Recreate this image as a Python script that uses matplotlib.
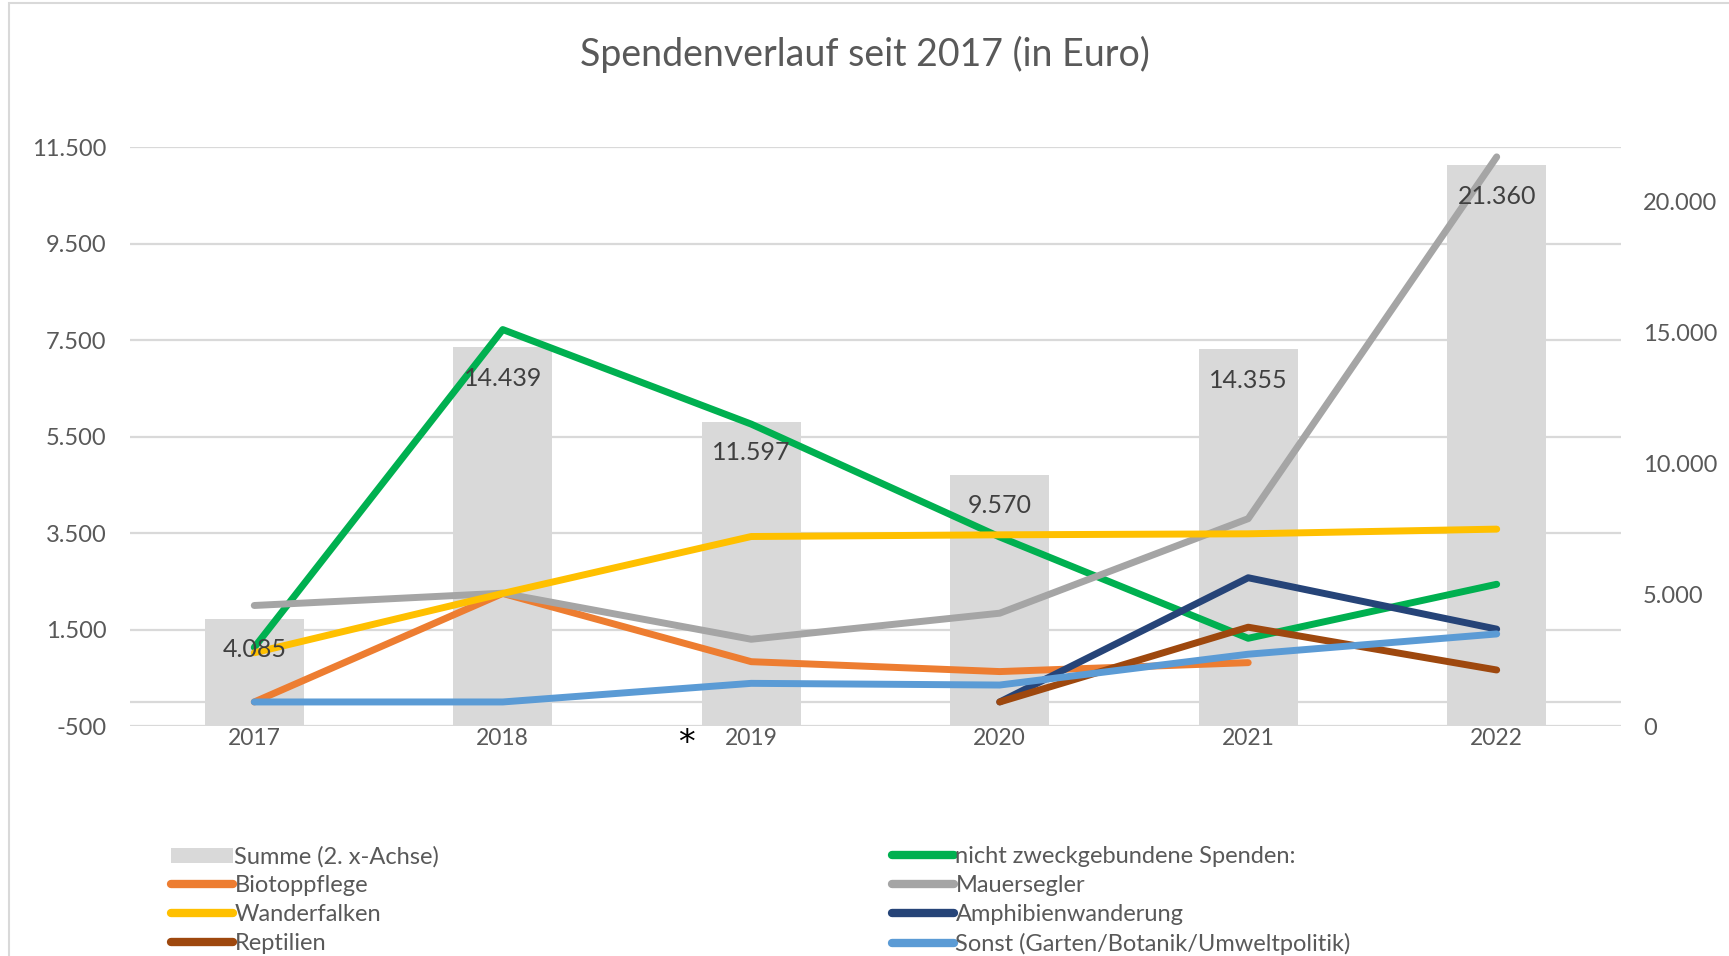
import numpy as np
import matplotlib
matplotlib.use("Agg")
import matplotlib.pyplot as plt
from matplotlib.patches import Rectangle, Patch
from matplotlib.lines import Line2D
from matplotlib.ticker import FuncFormatter

plt.rcParams['font.family'] = ['Lato', 'DejaVu Sans']

# Daten (Euro)
years = ['2017', '2018', '2019', '2020', '2021', '2022']
summe = [4085, 14439, 11597, 9570, 14355, 21360]
nicht_zweck = [1130, 7720, 5760, 3420, 1320, 2440]
biotop = [0, 2250, 835, 630, 815, np.nan]
mauersegler = [2000, 2255, 1300, 1840, 3800, 11300]
wanderfalken = [1020, 2250, 3430, 3465, 3486, 3583]
amphibien = [np.nan, np.nan, np.nan, 0, 2575, 1510]
reptilien = [np.nan, np.nan, np.nan, 0, 1550, 663]
sonst = [0, 0, 386, 351, 990, 1410]

series = [
    ('nicht zweckgebundene Spenden:', nicht_zweck, '#00B050'),
    ('Biotoppflege', biotop, '#ED7D31'),
    ('Mauersegler', mauersegler, '#A5A5A5'),
    ('Wanderfalken', wanderfalken, '#FFC000'),
    ('Amphibienwanderung', amphibien, '#264478'),
    ('Reptilien', reptilien, '#9E480E'),
    ('Sonst (Garten/Botanik/Umweltpolitik)', sonst, '#5B9BD5'),
]

text_col = '#595959'
grid_col = '#D9D9D9'


def de_fmt(v, pos=None):
    return f"{v:,.0f}".replace(',', '.')


fig = plt.figure(figsize=(17.29, 9.56), dpi=100)
rect = [0.0752, 0.2405, 0.8623, 0.6055]
x = np.arange(len(years))

# unterste Achse: linke Skala + Gitter
ax = fig.add_axes(rect)
ax.set_xlim(-0.5, len(years) - 0.5)
ax.set_ylim(-500, 11500)
ax.set_yticks(np.arange(-500, 11501, 2000))
ax.yaxis.set_major_formatter(FuncFormatter(de_fmt))
ax.grid(axis='y', color=grid_col, linewidth=1.6)
ax.axhline(0, color=grid_col, linewidth=1.6)
ax.set_xticks(x)
ax.set_xticklabels(years)
for s in ax.spines.values():
    s.set_visible(False)
ax.tick_params(axis='y', length=0, pad=17, labelsize=17, labelcolor=text_col)
ax.tick_params(axis='x', length=0, pad=1.5, labelsize=16.5, labelcolor=text_col)

# Balken: Summe auf 2. Achse
ax2 = ax.twinx()
ax2.set_ylim(0, 22050)
ax2.set_yticks(np.arange(0, 20001, 5000))
ax2.yaxis.set_major_formatter(FuncFormatter(de_fmt))
ax2.bar(x, summe, width=0.4, color='#D9D9D9', zorder=1)
for s in ax2.spines.values():
    s.set_visible(False)
ax2.tick_params(axis='y', length=0, pad=16, labelsize=17, labelcolor=text_col)

# Linien obenauf
ax3 = fig.add_axes(rect, sharex=ax, sharey=ax)
ax3.patch.set_visible(False)
ax3.axis('off')
for name, vals, col in series:
    ax3.plot(x, vals, color=col, linewidth=5, solid_capstyle='round',
             solid_joinstyle='round')

for xi, v in zip(x, summe):
    ax3.annotate(de_fmt(v), (xi, v), xycoords=ax2.transData,
                 xytext=(0, -31), textcoords='offset pixels',
                 ha='center', va='center', fontsize=18, color='#404040')

ax3.text(1.74, -0.03, '*', transform=ax.get_xaxis_transform(),
         ha='center', va='center', fontsize=24, color='black',
         family='DejaVu Sans')

fig.suptitle('Spendenverlauf seit 2017 (in Euro)', y=0.962, fontsize=27,
             color=text_col)

# Rahmen
fig.add_artist(Rectangle((0.0052, -0.1), 1.2, 1.0965, transform=fig.transFigure,
                         fill=False, edgecolor='#D9D9D9', linewidth=1.5))

# Legende
h_sum = Patch(facecolor='#D9D9D9', edgecolor='none', label='Summe (2. x-Achse)')
h_lines = {name: Line2D([], [], color=col, linewidth=6, solid_capstyle='round', label=name)
           for name, vals, col in series}
left_items = [h_sum, h_lines['Biotoppflege'], h_lines['Wanderfalken'], h_lines['Reptilien']]
right_items = [h_lines['nicht zweckgebundene Spenden:'], h_lines['Mauersegler'],
               h_lines['Amphibienwanderung'], h_lines['Sonst (Garten/Botanik/Umweltpolitik)']]
for items, xpos in [(left_items, 0.099), (right_items, 0.516)]:
    lg = fig.legend(handles=items, loc='upper left', bbox_to_anchor=(xpos, 0.115),
                    frameon=False, fontsize=17, handlelength=2.6, handleheight=0.6,
                    handletextpad=0.08, labelspacing=0.33, borderpad=0, borderaxespad=0)
    for t in lg.get_texts():
        t.set_color(text_col)

fig.savefig('out.png', dpi=100)
